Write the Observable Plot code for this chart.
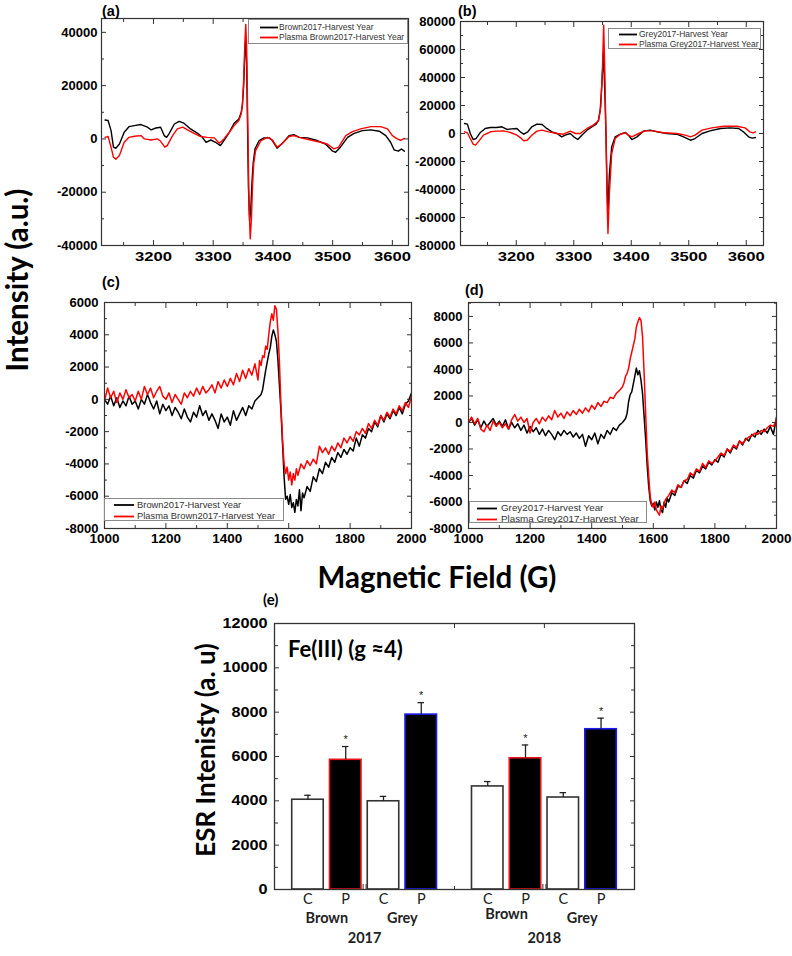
<!DOCTYPE html>
<html><head><meta charset="utf-8">
<script src="https://cdn.jsdelivr.net/npm/d3@7"></script>
<script src="https://cdn.jsdelivr.net/npm/@observablehq/plot@0.6"></script>
<style>
body{margin:0;background:#fff;}
#fig{position:relative;width:792px;height:956px;overflow:hidden;background:#fff;font-family:'Liberation Sans',Arial,sans-serif;}
.pane{position:absolute;}
.lbl{position:absolute;white-space:nowrap;line-height:1;}
.big{font-family:Lato,'Open Sans',sans-serif;font-weight:bold;color:#000;}
.legend{position:absolute;border:1px solid #8a8a8a;background:#fff;box-sizing:border-box;}
.legend svg{position:absolute;left:0;top:0;overflow:visible;}
.legend .tx{position:absolute;white-space:nowrap;line-height:1;color:#333;font-family:'Liberation Sans',Arial,sans-serif;}
</style></head><body><div id="fig"></div>
<script>
// ---------- Panel (a): Brown 2017 spectra (field G, intensity a.u.)
const aBlack = [[3119,7100],[3124,6900],[3129,3100],[3133,-3100],[3137,-3500],[3143,-1900],[3151,2500],[3159,4600],[3168,5000],[3179,5400],[3190,4400],[3196,3400],[3204,4100],[3212,4400],[3218,1250],[3222,600],[3226,1900],[3235,5600],[3243,6600],[3251,5900],[3262,3750],[3274,2100],[3282,600],[3288,-1250],[3296,-400],[3304,-1250],[3312,-2500],[3318,-600],[3327,2500],[3335,5900],[3343,7500],[3347,10000],[3349,13000],[3351,20000],[3353,32000],[3354.5,37000],[3356,28000],[3357.5,5000],[3359,-18000],[3361,-30600],[3363,-26000],[3365,-16000],[3367,-9000],[3370,-3750],[3377,-600],[3385,400],[3394,400],[3399,-600],[3407,-3500],[3416,-1600],[3427,1250],[3435,1600],[3444,600],[3458,400],[3474,-600],[3488,-1900],[3500,-4600],[3505,-5000],[3513,-3100],[3525,600],[3536,2100],[3550,3100],[3564,3400],[3578,2900],[3589,1250],[3597,-1250],[3603,-4100],[3610,-4600],[3615,-3800],[3620,-4600]];
const aRed = [[3119,600],[3124,900],[3129,-3100],[3133,-6900],[3137,-7600],[3143,-6200],[3151,-1250],[3159,600],[3168,1000],[3179,1250],[3185,0],[3196,-400],[3207,0],[3212,-900],[3219,-3100],[3223,-2500],[3232,1250],[3240,3750],[3249,4400],[3257,3400],[3268,2100],[3279,900],[3290,600],[3302,400],[3310,-1600],[3318,0],[3327,2500],[3335,5000],[3343,6900],[3347,9500],[3349,13000],[3351,22000],[3353,36000],[3354.5,43000],[3356,35000],[3358,5000],[3360,-25000],[3362,-37500],[3364,-30000],[3366,-17000],[3368,-9000],[3371,-4400],[3380,-600],[3391,600],[3399,-400],[3407,-3100],[3416,-1600],[3427,900],[3435,1250],[3447,400],[3463,-400],[3480,-1250],[3491,-1900],[3502,-3750],[3510,-3100],[3522,1250],[3533,2750],[3547,3750],[3564,4600],[3580,4600],[3592,3750],[3600,1250],[3608,0],[3614,-500],[3620,200]];
// ---------- Panel (b): Grey 2017 spectra
const bBlack = [[3110,7100],[3115,6700],[3120,0],[3125,-4300],[3130,-3600],[3137,500],[3146,3600],[3155,4300],[3166,4300],[3175,4800],[3184,2900],[3192,3300],[3201,3600],[3207,1200],[3213,-500],[3220,1200],[3227,4800],[3236,6700],[3245,6400],[3253,3600],[3262,1200],[3271,0],[3279,-2400],[3285,-1200],[3294,0],[3300,-2400],[3307,-4300],[3314,-1200],[3323,2400],[3332,4800],[3339,6700],[3343,9500],[3346,16700],[3349,35700],[3351.5,58300],[3354,30000],[3356,0],[3358,-40000],[3359.5,-54300],[3362,-28500],[3366,-9500],[3372,-2400],[3381,-500],[3390,700],[3395,-1200],[3401,-4300],[3410,-2400],[3421,1700],[3433,2400],[3445,1200],[3462,0],[3479,-500],[3491,-2400],[3503,-4800],[3511,-3600],[3523,0],[3537,1900],[3555,3600],[3572,4000],[3587,3600],[3595,1200],[3604,-2400],[3610,-3300],[3616,-2900]];
const bRed = [[3110,1200],[3115,500],[3120,-3600],[3125,-7600],[3129,-8300],[3134,-6000],[3143,-1200],[3155,1200],[3166,1700],[3178,1900],[3190,700],[3201,-1200],[3207,-2900],[3213,-5200],[3219,-4800],[3227,-1200],[3236,1700],[3245,2400],[3256,1200],[3271,0],[3282,-500],[3294,1700],[3303,0],[3311,0],[3323,3600],[3334,6000],[3343,9000],[3347,19000],[3350,47600],[3352,77400],[3354,45000],[3356,0],[3358,-50000],[3359.5,-71400],[3362,-42800],[3366,-14300],[3372,-3600],[3381,-500],[3390,500],[3395,-1200],[3401,-2400],[3413,0],[3424,1900],[3439,1900],[3456,500],[3479,0],[3494,-1200],[3503,-2400],[3511,-1200],[3523,2400],[3540,4000],[3561,5200],[3584,5200],[3598,4000],[3606,1200],[3612,400],[3616,1200]];
// ---------- Panel (c): Brown 2017, g≈4 region
const cBlack = [[1000,0],[1010,-300],[1020,200],[1030,-400],[1040,100],[1050,-500],[1060,-100],[1070,-400],[1080,200],[1090,-300],[1100,-100],[1110,-600],[1120,0],[1130,-300],[1140,300],[1150,-200],[1160,-600],[1170,-100],[1180,-900],[1190,-300],[1200,-700],[1210,-400],[1220,-1000],[1230,-500],[1240,-800],[1250,-1200],[1260,-600],[1270,-1100],[1280,-1400],[1290,-800],[1300,-1100],[1310,-400],[1320,-1000],[1330,-700],[1340,-1300],[1350,-900],[1360,-1300],[1370,-1800],[1380,-900],[1390,-1400],[1400,-1100],[1410,-1600],[1420,-700],[1430,-1300],[1440,-900],[1450,-500],[1460,-1000],[1470,-400],[1480,-600],[1490,-100],[1500,100],[1510,300],[1515,600],[1520,1200],[1525,1800],[1530,2300],[1535,2800],[1540,3200],[1545,3900],[1550,4300],[1555,4000],[1560,3600],[1565,2400],[1570,800],[1575,-800],[1580,-2800],[1585,-4800],[1590,-6200],[1595,-6000],[1600,-6500],[1605,-5900],[1610,-6700],[1615,-6400],[1620,-7000],[1625,-6200],[1630,-6600],[1635,-5600],[1640,-6900],[1645,-5800],[1650,-6100],[1660,-5400],[1670,-5700],[1680,-4800],[1690,-5100],[1700,-4300],[1710,-4600],[1720,-3900],[1730,-4200],[1740,-3600],[1750,-3900],[1760,-3300],[1770,-3600],[1780,-3100],[1790,-3400],[1800,-3000],[1810,-3200],[1820,-2400],[1830,-2900],[1840,-2200],[1850,-2400],[1860,-1800],[1870,-2000],[1880,-1400],[1890,-1700],[1900,-1000],[1910,-1400],[1920,-900],[1930,-1200],[1940,-700],[1950,-1000],[1960,-500],[1970,-900],[1980,-300],[1990,-100],[2000,400]];
const cRed = [[1000,-100],[1010,700],[1020,100],[1030,500],[1040,-200],[1050,400],[1060,0],[1070,600],[1080,100],[1090,300],[1100,-100],[1110,500],[1120,0],[1130,800],[1140,300],[1150,700],[1160,100],[1170,500],[1180,800],[1190,200],[1200,0],[1210,400],[1220,-200],[1230,300],[1240,0],[1250,-300],[1260,400],[1270,100],[1280,500],[1290,200],[1300,700],[1310,300],[1320,800],[1330,400],[1340,600],[1350,900],[1360,400],[1370,1100],[1380,700],[1390,1200],[1400,800],[1410,1300],[1420,900],[1430,1600],[1440,1100],[1450,1800],[1460,1300],[1470,1900],[1480,1500],[1490,2200],[1500,1200],[1505,2400],[1510,2100],[1515,2700],[1520,2600],[1525,3300],[1530,3100],[1535,4000],[1540,4800],[1545,5300],[1550,4900],[1555,5800],[1560,5600],[1565,4200],[1570,2200],[1575,-500],[1580,-2500],[1585,-4000],[1590,-4600],[1595,-4200],[1600,-5000],[1605,-4500],[1610,-5300],[1615,-4600],[1620,-5000],[1625,-4300],[1630,-4700],[1640,-4000],[1650,-4300],[1660,-3800],[1670,-4100],[1680,-3700],[1690,-4000],[1700,-2900],[1710,-3300],[1720,-3000],[1730,-3400],[1740,-2900],[1750,-3200],[1760,-2700],[1770,-3000],[1780,-2400],[1790,-2700],[1800,-2300],[1810,-2600],[1820,-2000],[1830,-2200],[1840,-1800],[1850,-2100],[1860,-1500],[1870,-1800],[1880,-1300],[1890,-1600],[1900,-1000],[1910,-1300],[1920,-800],[1930,-1100],[1940,-600],[1950,-900],[1960,-400],[1970,-700],[1980,-200],[1990,-500],[2000,200]];
// ---------- Panel (d): Grey 2017, g≈4 region
const dBlack = [[1000,0],[1010,300],[1020,-200],[1030,200],[1040,-400],[1050,100],[1060,-300],[1070,0],[1080,300],[1090,-200],[1100,100],[1110,-300],[1120,200],[1130,-500],[1140,0],[1150,-400],[1160,-100],[1170,-600],[1180,-200],[1190,-800],[1200,-300],[1210,-700],[1220,-400],[1230,-900],[1240,-500],[1250,-1000],[1260,-600],[1270,-900],[1280,-1300],[1290,-700],[1300,-1000],[1310,-600],[1320,-900],[1330,-700],[1340,-1100],[1350,-800],[1360,-1200],[1370,-900],[1380,-1800],[1390,-1000],[1400,-1300],[1410,-800],[1420,-1600],[1430,-900],[1440,-1200],[1450,-600],[1460,-900],[1470,-400],[1480,-600],[1490,-200],[1500,0],[1510,300],[1515,700],[1520,1600],[1525,2100],[1530,2300],[1535,2900],[1540,3500],[1545,4100],[1550,3600],[1555,3900],[1560,3200],[1565,2200],[1570,500],[1575,-1200],[1580,-3200],[1585,-4800],[1590,-5900],[1595,-6300],[1600,-6100],[1605,-6600],[1610,-6000],[1615,-6400],[1620,-5900],[1625,-6600],[1630,-6800],[1635,-6000],[1640,-6400],[1645,-5700],[1650,-6000],[1660,-5300],[1670,-5500],[1680,-4800],[1690,-4900],[1700,-4400],[1710,-4600],[1720,-4000],[1730,-4200],[1740,-3600],[1750,-3800],[1760,-3300],[1770,-3500],[1780,-3000],[1790,-3200],[1800,-2800],[1810,-3000],[1820,-2400],[1830,-2600],[1840,-2000],[1850,-2300],[1860,-1800],[1870,-2000],[1880,-1400],[1890,-1700],[1900,-1200],[1910,-1400],[1920,-900],[1930,-1100],[1940,-600],[1950,-900],[1960,-500],[1970,-800],[1980,-300],[1990,-900],[2000,400]];
const dRed = [[1000,0],[1010,400],[1020,-100],[1030,300],[1040,-500],[1050,-700],[1060,-200],[1070,-600],[1080,100],[1090,-300],[1100,0],[1110,-400],[1120,-100],[1130,-500],[1140,200],[1150,600],[1160,100],[1170,400],[1180,0],[1190,300],[1200,-800],[1210,0],[1220,300],[1230,-100],[1240,400],[1250,100],[1260,500],[1270,200],[1280,900],[1290,400],[1300,700],[1310,300],[1320,800],[1330,500],[1340,900],[1350,600],[1360,1000],[1370,700],[1380,1100],[1390,800],[1400,1300],[1410,1000],[1420,1500],[1430,1200],[1440,1600],[1450,1500],[1460,1900],[1470,1800],[1480,2200],[1490,2400],[1500,2700],[1505,3000],[1510,3500],[1515,3700],[1520,4100],[1525,4800],[1530,5300],[1535,5800],[1540,6300],[1545,7200],[1550,7600],[1555,7900],[1560,7700],[1565,6500],[1570,3800],[1575,800],[1580,-2200],[1585,-4000],[1590,-5600],[1595,-6200],[1600,-6400],[1605,-6000],[1610,-6600],[1615,-6800],[1620,-7000],[1625,-6300],[1630,-6500],[1640,-5800],[1650,-5500],[1660,-5100],[1670,-5300],[1680,-4700],[1690,-4900],[1700,-4400],[1710,-4300],[1720,-3800],[1730,-4000],[1740,-3500],[1750,-3700],[1760,-3100],[1770,-3400],[1780,-2900],[1790,-3100],[1800,-2900],[1810,-2600],[1820,-2300],[1830,-2500],[1840,-2000],[1850,-2200],[1860,-1700],[1870,-1900],[1880,-1400],[1890,-1600],[1900,-1300],[1910,-1100],[1920,-1000],[1930,-800],[1940,-900],[1950,-600],[1960,-700],[1970,-400],[1980,-200],[1990,-300],[2000,200]];
// ---------- Panel (e): bar chart
const eSamples = ["C","P","C","P","C","P","C","P"];
const eValues = [4050, 5850, 3980, 7890, 4650, 5920, 4150, 7230];
const eErrors = [200, 600, 220, 540, 220, 600, 220, 500];
const eGroups = ["Brown","Grey","Brown","Grey"];
const eYears = ["2017","2018"];
// ---------- tick labels
const abX = [3200, 3300, 3400, 3500, 3600];
const aY = [-40000, -20000, 0, 20000, 40000];
const bY = [-80000, -60000, -40000, -20000, 0, 20000, 40000, 60000, 80000];
const cdX = [1000, 1200, 1400, 1600, 1800, 2000];
const cY = [-8000, -6000, -4000, -2000, 0, 2000, 4000, 6000];
const dY = [-8000, -6000, -4000, -2000, 0, 2000, 4000, 6000, 8000];
const eY = [0, 2000, 4000, 6000, 8000, 10000, 12000];

const fig = document.getElementById("fig");
const FRAME = "#333";
const minorOf = (major, step) => d3.range(major[0] - step, major[major.length - 1] + step * 1.01, step).filter(v => !major.includes(v));
const fmt = d => String(d);

function inward(xMajor, xMinor, yMajor, yMinor) {
  const o = {stroke: FRAME, fill: "none", label: null, strokeWidth: 1};
  return [
    Plot.axisX({...o, anchor: "bottom", ticks: xMajor, tickSize: 5, dy: -5}),
    Plot.axisX({...o, anchor: "bottom", ticks: xMinor, tickSize: 3, dy: -3}),
    Plot.axisX({...o, anchor: "top", ticks: xMajor, tickSize: 5, dy: 5}),
    Plot.axisX({...o, anchor: "top", ticks: xMinor, tickSize: 3, dy: 3}),
    Plot.axisY({...o, anchor: "left", ticks: yMajor, tickSize: 5, dx: 5}),
    Plot.axisY({...o, anchor: "left", ticks: yMinor, tickSize: 3, dx: 3}),
    Plot.axisY({...o, anchor: "right", ticks: yMajor, tickSize: 5, dx: -5}),
    Plot.axisY({...o, anchor: "right", ticks: yMinor, tickSize: 3, dx: -3})
  ];
}

function pane(left, top, svg) {
  const d = document.createElement("div");
  d.className = "pane";
  d.style.left = left + "px"; d.style.top = top + "px";
  d.appendChild(svg);
  fig.appendChild(d);
  return svg;
}

function stretchX(svg, sel, k) {
  svg.querySelectorAll(sel).forEach(t => {
    const tr = t.getAttribute("transform");
    if (tr) t.setAttribute("transform", tr + ` scale(${k},1)`);
  });
}

function spectrum(o) {
  const xMinor = minorOf(o.xTicks, o.xStep / 2);
  const yMinor = minorOf(o.yTicks, o.yStep / 2).filter(v => v > o.yDomain[0] && v < o.yDomain[1]);
  const xMinorIn = xMinor.filter(v => v > o.xDomain[0] && v < o.xDomain[1]);
  const svg = Plot.plot({
    width: o.width, height: o.height,
    marginTop: o.m[0], marginRight: o.m[1], marginBottom: o.m[2], marginLeft: o.m[3],
    x: {domain: o.xDomain}, y: {domain: o.yDomain},
    style: {fontFamily: "'Liberation Sans', Arial, sans-serif", fontSize: o.fs + "px", fontWeight: "bold", color: "#000", background: "transparent", overflow: "visible"},
    marks: [
      Plot.line(o.black, {x: d => d[0], y: d => d[1], stroke: "#000", strokeWidth: o.sw, clip: true}),
      Plot.line(o.red, {x: d => d[0], y: d => d[1], stroke: "#ff0000", strokeWidth: o.sw, clip: true}),
      Plot.frame({stroke: FRAME, strokeWidth: 1.2}),
      Plot.axisX({anchor: "bottom", ticks: o.xTicks, tickSize: 0, tickPadding: o.padX, tickFormat: fmt, label: null, fontSize: o.fsX}),
      Plot.axisY({anchor: "left", ticks: o.yTicks, tickSize: 0, tickPadding: o.padY, tickFormat: fmt, label: null}),
      ...inward(o.xTicks, xMinorIn, o.yTicks, yMinor)
    ]
  });
  pane(o.left, o.top, svg);
  if (o.sx) stretchX(svg, 'g[aria-label="x-axis tick label"] text', o.sx);
  return svg;
}

spectrum({left: 0, top: 0, width: 420, height: 270, m: [18, 12, 25, 101], xDomain: [3113, 3627], yDomain: [-40000, 45200],
  xTicks: abX, xStep: 100, yTicks: aY, yStep: 20000, black: aBlack, red: aRed, fs: 13, fsX: 13, padX: 6, padY: 4, sx: 1.28, sw: 1.4});
spectrum({left: 390, top: 0, width: 400, height: 270, m: [21, 27, 25, 70], xDomain: [3103, 3630], yDomain: [-80000, 80000],
  xTicks: abX, xStep: 100, yTicks: bY, yStep: 20000, black: bBlack, red: bRed, fs: 13, fsX: 13, padX: 6, padY: 5, sx: 1.28, sw: 1.4});
spectrum({left: 0, top: 280, width: 430, height: 270, m: [22, 19, 22, 104], xDomain: [1000, 2000], yDomain: [-8000, 6000],
  xTicks: cdX, xStep: 200, yTicks: cY, yStep: 2000, black: cBlack, red: cRed, fs: 13, fsX: 13.5, padX: 5, padY: 6, sw: 1.5});
spectrum({left: 390, top: 280, width: 402, height: 270, m: [22, 16, 22, 78], xDomain: [1000, 2000], yDomain: [-8000, 9050],
  xTicks: cdX, xStep: 200, yTicks: dY, yStep: 2000, black: dBlack, red: dRed, fs: 13, fsX: 13.5, padX: 5, padY: 6, sw: 1.5});

// ---------- panel (e)
const bars = eValues.map((v, i) => ({
  sample: eSamples[i], group: eGroups[Math.floor(i / 2)], year: eYears[Math.floor(i / 4)],
  value: v, err: eErrors[i], pos: i + 1 + (i >= 4 ? 0.76 : 0)
}));
const half = 0.417, cap = 0.085;
const groupsE = d3.groups(bars, d => d.year + d.group).map(([k, v]) => ({label: v[0].group, year: v[0].year, pos: d3.mean(v, d => d.pos)}));
const yearsE = d3.groups(bars, d => d.year).map(([k, v]) => ({label: k, pos: d3.mean(v, d => d.pos)}));
const boundaries = [bars[1].pos + 0.5, (bars[3].pos + bars[4].pos) / 2, bars[5].pos + 0.5];
const eo = {stroke: FRAME, fill: "none", label: null};
const svgE = Plot.plot({
  width: 470, height: 356, marginTop: 23, marginRight: 16, marginBottom: 67, marginLeft: 94,
  x: {domain: [0.114, 9.646]}, y: {domain: [0, 12000]},
  style: {fontFamily: "'Liberation Sans', Arial, sans-serif", fontSize: "14px", fontWeight: "bold", color: "#000", background: "transparent", overflow: "visible"},
  marks: [
    Plot.rect(bars.filter(d => d.sample === "C"), {x1: d => d.pos - half, x2: d => d.pos + half, y1: d => 0, y2: "value", fill: "white", stroke: "#333", strokeWidth: 1.6}),
    Plot.rect(bars.filter(d => d.sample === "P" && d.group === "Brown"), {x1: d => d.pos - half, x2: d => d.pos + half, y1: d => 0, y2: "value", fill: "black", stroke: "#e8141b", strokeWidth: 1.6}),
    Plot.rect(bars.filter(d => d.sample === "P" && d.group === "Grey"), {x1: d => d.pos - half, x2: d => d.pos + half, y1: d => 0, y2: "value", fill: "black", stroke: "#1c1cf0", strokeWidth: 1.6}),
    Plot.ruleX(bars, {x: "pos", y1: "value", y2: d => d.value + d.err, stroke: "#222", strokeWidth: 1.3}),
    Plot.ruleY(bars, {y: d => d.value + d.err, x1: d => d.pos - cap, x2: d => d.pos + cap, stroke: "#222", strokeWidth: 1.3}),
    Plot.text(bars.filter(d => d.sample === "P"), {x: "pos", y: d => d.value + d.err, text: () => "*", dy: -7, fontSize: 11, fontWeight: "normal", fill: "#222"}),
    Plot.frame({stroke: FRAME, strokeWidth: 1.3}),
    Plot.axisY({anchor: "left", ticks: eY, tickSize: 0, tickPadding: 7, tickFormat: fmt, label: null, fontSize: 14.5}),
    Plot.axisY({...eo, anchor: "left", ticks: eY, tickSize: 5, dx: 5}),
    Plot.axisY({...eo, anchor: "left", ticks: minorOf(eY, 1000).filter(v => v > 0 && v < 12000), tickSize: 4, dx: 4}),
    Plot.axisY({...eo, anchor: "right", ticks: eY, tickSize: 5, dx: -5}),
    Plot.axisY({...eo, anchor: "right", ticks: minorOf(eY, 1000).filter(v => v > 0 && v < 12000), tickSize: 4, dx: -4}),
    Plot.axisX({...eo, anchor: "top", ticks: boundaries.slice(1), tickSize: 4, dy: 4}),
    Plot.axisX({...eo, anchor: "bottom", ticks: [boundaries[1]], tickSize: 3, dy: -3}),
    Plot.axisX({...eo, anchor: "bottom", ticks: [boundaries[0] - 0.04, boundaries[0] + 0.04, boundaries[2] - 0.04, boundaries[2] + 0.04], tickSize: 5, dy: -5}),
    Plot.text(bars, {x: "pos", y: d => 0, text: "sample", dy: 10, fontFamily: "Lato, 'Open Sans', sans-serif", fontWeight: "normal", fontSize: 14.5, fill: "#222"}),
    Plot.text(groupsE.filter(g => !(g.year === "2018" && g.label === "Brown")), {x: "pos", y: d => 0, text: "label", dy: 29, fontFamily: "Lato, 'Open Sans', sans-serif", fontSize: 14.5, fill: "#222"}),
    Plot.text(groupsE.filter(g => g.year === "2018" && g.label === "Brown"), {x: "pos", y: d => 0, text: "label", dy: 25, fontFamily: "Lato, 'Open Sans', sans-serif", fontSize: 14.5, fill: "#222"}),
    Plot.text(yearsE, {x: "pos", y: d => 0, text: "label", dy: 49, fontFamily: "Lato, 'Open Sans', sans-serif", fontSize: 14.5, fill: "#222"})
  ]
});
pane(180, 600, svgE);
stretchX(svgE, 'g[aria-label="y-axis tick label"] text', 1.12);

// ---------- legends
const SVGNS = "http://www.w3.org/2000/svg";
function legend(x, y, w, h, rows, fs, swL, swW, txL, rowY) {
  const box = document.createElement("div");
  box.className = "legend";
  Object.assign(box.style, {left: x + "px", top: y + "px", width: w + "px", height: h + "px"});
  const s = document.createElementNS(SVGNS, "svg");
  s.setAttribute("width", w); s.setAttribute("height", h);
  rows.forEach((r, i) => {
    const ln = document.createElementNS(SVGNS, "line");
    ln.setAttribute("x1", swL); ln.setAttribute("x2", swL + swW);
    ln.setAttribute("y1", rowY[i]); ln.setAttribute("y2", rowY[i]);
    ln.setAttribute("stroke", r.color); ln.setAttribute("stroke-width", 1.8);
    s.appendChild(ln);
    const t = document.createElement("div");
    t.className = "tx";
    t.textContent = r.label;
    Object.assign(t.style, {left: txL + "px", top: (rowY[i] - fs * 0.55) + "px", fontSize: fs + "px"});
    box.appendChild(t);
  });
  box.appendChild(s);
  fig.appendChild(box);
}
legend(248, 19, 160, 25, [{label: "Brown2017-Harvest Year", color: "#000"}, {label: "Plasma Brown2017-Harvest Year", color: "#ff0000"}], 8.5, 11, 18, 30, [7.5, 17.5]);
legend(608, 28, 153, 21, [{label: "Grey2017-Harvest Year", color: "#000"}, {label: "Plasma Grey2017-Harvest Year", color: "#ff0000"}], 8.5, 10, 18, 30, [5.5, 15.5]);
legend(104, 498, 180, 23, [{label: "Brown2017-Harvest Year", color: "#000"}, {label: "Plasma Brown2017-Harvest Year", color: "#ff0000"}], 9.4, 9, 20, 32, [6, 17.5]);
legend(469, 501, 178, 22, [{label: "Grey2017-Harvest Year", color: "#000"}, {label: "Plasma Grey2017-Harvest Year", color: "#ff0000"}], 9.8, 7, 20, 31, [6.5, 17.5]);

// ---------- text labels
function label(txt, x, y, {size = 14, cls = "big", anchor = "start", rotate = 0, weight = "bold", family = null, color = "#000"} = {}) {
  const d = document.createElement("div");
  d.className = "lbl " + cls;
  d.textContent = txt;
  d.style.fontSize = size + "px";
  d.style.fontWeight = weight;
  d.style.color = color;
  if (family) d.style.fontFamily = family;
  d.style.left = x + "px"; d.style.top = y + "px";
  const tx = anchor === "middle" ? "-50%" : "0";
  d.style.transform = `translate(${tx},-50%)`;
  if (rotate) { d.style.transform = `translate(-50%,-50%) rotate(${rotate}deg)`; }
  fig.appendChild(d);
}
const arialB = "'Liberation Sans', Arial, sans-serif";
label("(a)", 102, 10.5, {size: 14.5, family: arialB});
label("(b)", 458, 11, {size: 14.5, family: arialB});
label("(c)", 102, 282, {size: 14.5, family: arialB});
label("(d)", 465, 290, {size: 14.5, family: arialB});
label("(e)", 263, 599, {size: 15});
label("Intensity (a.u.)", 17, 280, {size: 29.5, anchor: "middle", rotate: -90});
label("Magnetic Field (G)", 437, 577, {size: 29.5, anchor: "middle"});
label("ESR Intenisty (a. u)", 205, 750, {size: 26, anchor: "middle", rotate: -90});
label("Fe(III) (g \u22484)", 288, 649, {size: 22});
</script></body></html>
